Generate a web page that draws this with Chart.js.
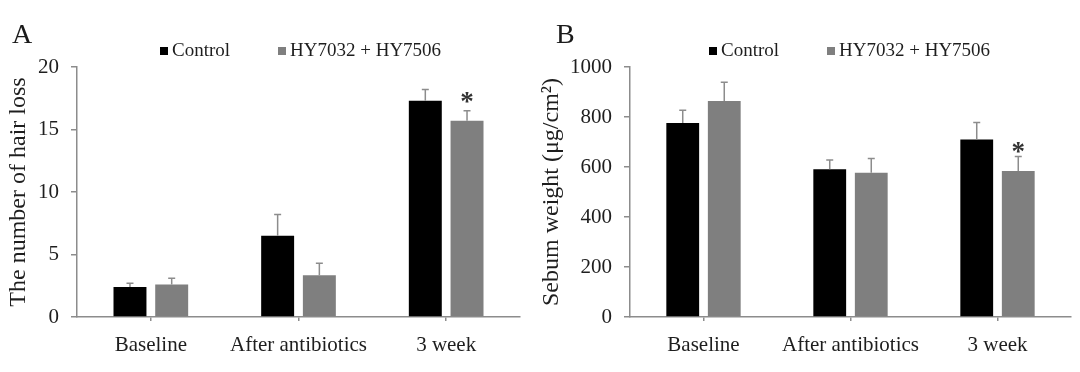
<!DOCTYPE html>
<html>
<head>
<meta charset="utf-8">
<script src="https://cdn.jsdelivr.net/npm/chart.js@4.4.1/dist/chart.umd.min.js"></script>
<style>
  html, body { margin: 0; padding: 0; background: #ffffff; }
  #wrap { position: relative; width: 1080px; height: 372px; overflow: hidden; }
  .panel { position: absolute; top: 0; width: 540px; height: 372px; }
  #pA { left: 0; }
  #pB { left: 540px; }
</style>
</head>
<body>
<div id="wrap">
  <div class="panel" id="pA"><canvas id="chartA" width="540" height="372"></canvas></div>
  <div class="panel" id="pB"><canvas id="chartB" width="540" height="372"></canvas></div>
</div>
<script>
// ---------------- DATA ----------------
const categories = ['Baseline', 'After antibiotics', '3 week'];
const seriesNames = ['Control', 'HY7032 + HY7506'];

// Panel A: number of hair loss
const hairControl = [2.4, 6.5, 17.3];
const hairControlErr = [0.3, 1.7, 0.9];
const hairProbiotic = [2.6, 3.35, 15.7];
const hairProbioticErr = [0.5, 0.95, 0.8];
const hairSignificant = [false, false, true];
const hairTicks = [0, 5, 10, 15, 20];

// Panel B: sebum weight
const sebumControl = [776, 591, 710];
const sebumControlErr = [51, 37, 68];
const sebumProbiotic = [864, 577, 584];
const sebumProbioticErr = [75, 57, 58];
const sebumSignificant = [false, false, true];
const sebumTicks = [0, 200, 400, 600, 800, 1000];

// ---------------- STYLE ----------------
const FONT = '"Liberation Serif", "Times New Roman", serif';
const TEXT = '#1e1e1e';
const AXIS = '#8c8c8c';
const BLACK = '#000000';
const GRAY = '#7f7f7f';

// error bars + significance asterisks drawn through the scales
const errorBarPlugin = {
  id: 'errorBars',
  afterDatasetsDraw(chart, args, opts) {
    const ctx = chart.ctx;
    const y = chart.scales.y;
    ctx.save();
    ctx.strokeStyle = AXIS;
    ctx.lineWidth = 1.5;
    chart.data.datasets.forEach((ds, di) => {
      const meta = chart.getDatasetMeta(di);
      meta.data.forEach((bar, i) => {
        const top = y.getPixelForValue(ds.data[i] + ds.errors[i]);
        ctx.beginPath();
        ctx.moveTo(bar.x, bar.y);
        ctx.lineTo(bar.x, top);
        ctx.moveTo(bar.x - 3.5, top);
        ctx.lineTo(bar.x + 3.5, top);
        ctx.stroke();
        if (ds.significant && ds.significant[i]) {
          ctx.fillStyle = '#333';
          ctx.font = 'bold 27px ' + FONT;
          ctx.textAlign = 'center';
          ctx.textBaseline = 'alphabetic';
          ctx.fillText('*', bar.x, top - opts.starGap);
        }
      });
    });
    ctx.restore();
  }
};

// panel letter and legend row
const decorPlugin = {
  id: 'decor',
  afterDraw(chart, args, opts) {
    const ctx = chart.ctx;
    ctx.save();
    ctx.fillStyle = '#1a1a1a';
    ctx.font = '28px ' + FONT;
    ctx.textAlign = 'left';
    ctx.textBaseline = 'alphabetic';
    ctx.fillText(opts.letter, opts.letterX, opts.letterY);
    ctx.font = '19px ' + FONT;
    chart.data.datasets.forEach((ds, i) => {
      const lx = opts.legendX[i];
      ctx.fillStyle = ds.backgroundColor;
      ctx.fillRect(lx, opts.legendY - 9, 8, 8);
      ctx.fillStyle = TEXT;
      ctx.fillText(ds.label, lx + 12, opts.legendY);
    });
    ctx.restore();
  }
};

function makeChart(canvasId, cfg) {
  return new Chart(document.getElementById(canvasId), {
    type: 'bar',
    data: {
      labels: categories,
      datasets: [
        { label: seriesNames[0], data: cfg.control, errors: cfg.controlErr,
          backgroundColor: BLACK, categoryPercentage: 0.565, barPercentage: 0.79 },
        { label: seriesNames[1], data: cfg.probiotic, errors: cfg.probioticErr,
          significant: cfg.significant,
          backgroundColor: GRAY, categoryPercentage: 0.565, barPercentage: 0.79 }
      ]
    },
    options: {
      responsive: false,
      animation: false,
      devicePixelRatio: 1,
      layout: { padding: { top: 67, left: 0, right: cfg.padRight, bottom: 0 } },
      plugins: {
        legend: { display: false },
        tooltip: { enabled: false },
        errorBars: { starGap: cfg.starGap },
        decor: { letter: cfg.letter, letterX: cfg.letterX, letterY: 43,
                 legendX: cfg.legendX, legendY: 56 }
      },
      scales: {
        x: {
          grid: { display: true, drawOnChartArea: false, drawTicks: true, tickLength: 4,
                  offset: false, color: AXIS, lineWidth: 1.5 },
          border: { display: true, color: AXIS, width: 1.5 },
          ticks: { font: { family: FONT, size: 21 }, color: TEXT, padding: 12 },
          afterFit: s => { s.height = 55; }
        },
        y: {
          min: 0,
          max: cfg.ticks[cfg.ticks.length - 1],
          afterBuildTicks: s => { s.ticks = cfg.ticks.map(v => ({ value: v })); },
          grid: { display: true, drawOnChartArea: false, drawTicks: true, tickLength: 6,
                  color: AXIS, lineWidth: 1.5 },
          border: { display: true, color: AXIS, width: 1.5 },
          ticks: { font: { family: FONT, size: 21 }, color: TEXT, padding: 12,
                   callback: v => String(v) },
          title: { display: true, text: cfg.yTitle, color: TEXT,
                   font: { family: FONT, size: 24, lineHeight: 1 },
                   padding: { top: cfg.titlePad, bottom: 0 } },
          afterFit: s => { s.width = cfg.yWidth; }
        }
      }
    },
    plugins: [errorBarPlugin, decorPlugin]
  });
}

makeChart('chartA', {
  control: hairControl, controlErr: hairControlErr,
  probiotic: hairProbiotic, probioticErr: hairProbioticErr,
  significant: hairSignificant, ticks: hairTicks,
  yTitle: 'The number of hair loss', yWidth: 77, padRight: 20, titlePad: 7,
  letter: 'A', letterX: 12, legendX: [160, 278], starGap: 1
});

makeChart('chartB', {
  control: sebumControl, controlErr: sebumControlErr,
  probiotic: sebumProbiotic, probioticErr: sebumProbioticErr,
  significant: sebumSignificant, ticks: sebumTicks,
  yTitle: 'Sebum weight (\u03bcg/cm\u00b2)', yWidth: 90, padRight: 9, titlePad: 0,
  letter: 'B', letterX: 16, legendX: [169, 287], starGap: -3
});
</script>
</body>
</html>
